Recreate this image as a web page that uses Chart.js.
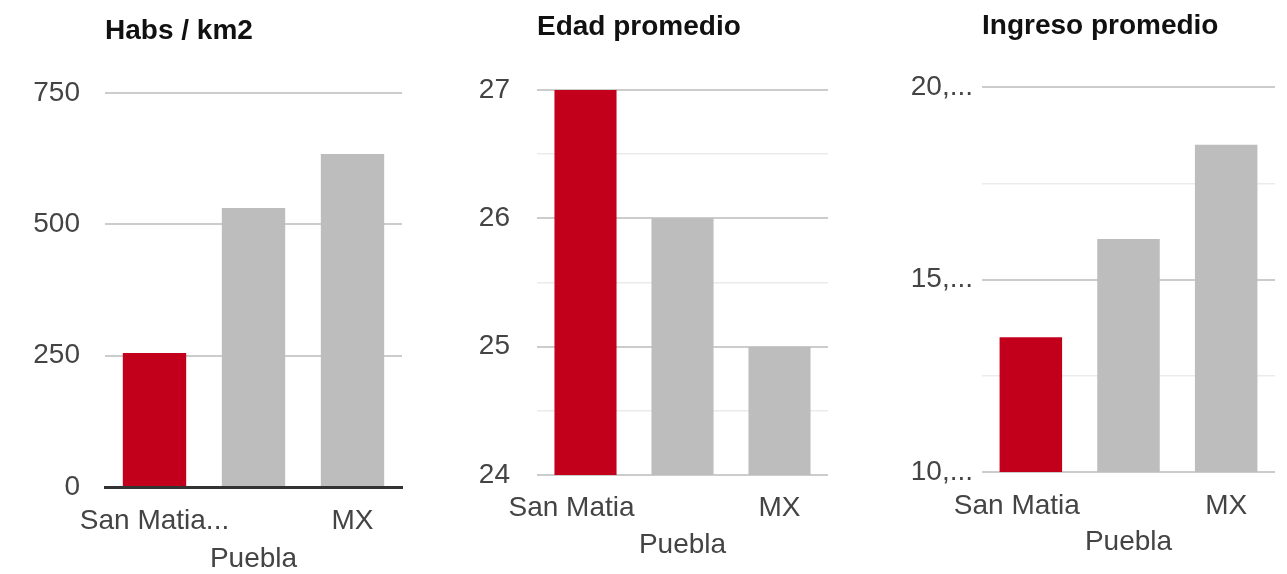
<!DOCTYPE html>
<html>
<head>
<meta charset="utf-8">
<title>Indicadores</title>
<script src="https://cdn.jsdelivr.net/npm/chart.js@4.4.1/dist/chart.umd.min.js"></script>
<style>
  body { margin: 0; background: #fff; }
  canvas.box { position: absolute; top: 0; }
</style>
</head>
<body>
<canvas id="densityChart" class="box" width="430" height="574" style="left:0px"></canvas>
<canvas id="ageChart" class="box" width="430" height="574" style="left:430px"></canvas>
<canvas id="incomeChart" class="box" width="427" height="574" style="left:860px"></canvas>
<script>
// Data
const densityLabels = ['San Matia...', 'Puebla', 'MX'];
const densityValues = [255, 531, 634];
const densityTicks = [0, 250, 500, 750];
const densityTickLabels = ['0', '250', '500', '750'];

const ageLabels = ['San Matia', 'Puebla', 'MX'];
const ageValues = [27, 26, 25];
const ageTicks = [24, 25, 26, 27];
const ageTickLabels = ['24', '25', '26', '27'];

const incomeLabels = ['San Matia', 'Puebla', 'MX'];
const incomeValues = [13500, 16050, 18500];
const incomeTicks = [10000, 15000, 20000];
const incomeTickLabels = ['10,...', '15,...', '20,...'];

const barColors = ['#c3001c', '#bdbdbd', '#bdbdbd'];
const fontFamily = "'Liberation Sans', Arial, sans-serif";

// major ticks plus a minor line half way between each pair
function withMinor(major, minor) {
    const out = [];
    major.forEach((v, i) => {
        out.push(v);
        if (minor && i < major.length - 1) out.push((v + major[i + 1]) / 2);
    });
    return out;
}

function makeChart(id, c) {
    const allTicks = withMinor(c.ticks, c.minor);
    const ctx = document.getElementById(id).getContext('2d');
    return new Chart(ctx, {
        type: 'bar',
        data: {
            labels: c.labels,
            datasets: [{
                data: c.values,
                backgroundColor: barColors,
                borderWidth: 0,
                barPercentage: 0.64,
                categoryPercentage: 1
            }]
        },
        options: {
            responsive: false,
            animation: false,
            events: [],
            layout: { padding: { left: 0, right: c.padRight, top: 0, bottom: 0 } },
            plugins: {
                legend: { display: false },
                tooltip: { enabled: false },
                title: {
                    display: true,
                    text: c.title,
                    align: 'start',
                    fullSize: false,
                    color: '#111',
                    font: { family: fontFamily, size: 28, weight: 'bold', lineHeight: 1.2 },
                    padding: { top: c.titleTop, bottom: c.titleBottom }
                }
            },
            scales: {
                x: {
                    afterFit: s => { s.height = c.axisHeight; },
                    grid: { display: false, drawTicks: false },
                    border: c.darkZero
                        ? { display: true, color: '#333', width: 3, z: 1 }
                        : { display: false },
                    ticks: {
                        padding: c.labelPad,
                        color: '#444',
                        maxRotation: 0,
                        minRotation: 0,
                        autoSkip: false,
                        font: { family: fontFamily, size: 28, lineHeight: c.labelLine },
                        callback: (v, i) => {
                            if (i === 1) return ['', c.labels[i]];
                            if (i === 0 && c.padFirst) return c.labels[i] + '\u2002\u2002';
                            return c.labels[i];
                        }
                    }
                },
                y: {
                    min: c.ticks[0],
                    max: c.ticks[c.ticks.length - 1],
                    afterBuildTicks: s => { s.ticks = allTicks.map(v => ({ value: v })); },
                    afterFit: s => { s.width = c.axisWidth; },
                    border: { display: false },
                    grid: {
                        drawTicks: false,
                        color: g => c.ticks.includes(g.tick.value) ? '#cccccc' : '#ebebeb',
                        lineWidth: g => c.ticks.includes(g.tick.value) ? 2 : 1.5
                    },
                    ticks: {
                        padding: c.tickPad,
                        color: '#444',
                        font: { family: fontFamily, size: 28 },
                        callback: v => {
                            const i = c.ticks.indexOf(v);
                            return i < 0 ? '' : c.tickLabels[i];
                        }
                    }
                }
            }
        }
    });
}

makeChart('densityChart', {
    title: 'Habs / km2',
    labels: densityLabels, values: densityValues,
    ticks: densityTicks, tickLabels: densityTickLabels, minor: false,
    darkZero: true, padFirst: false,
    padRight: 28, axisWidth: 105, tickPad: 25,
    titleTop: 14.5, titleBottom: 44.9,
    axisHeight: 87, labelPad: 15, labelLine: 1.357
});

makeChart('ageChart', {
    title: 'Edad promedio',
    labels: ageLabels, values: ageValues,
    ticks: ageTicks, tickLabels: ageTickLabels, minor: true,
    darkZero: false, padFirst: true,
    padRight: 32, axisWidth: 107, tickPad: 27,
    titleTop: 10.5, titleBottom: 45.9,
    axisHeight: 99, labelPad: 14.5, labelLine: 1.32
});

makeChart('incomeChart', {
    title: 'Ingreso promedio',
    labels: incomeLabels, values: incomeValues,
    ticks: incomeTicks, tickLabels: incomeTickLabels, minor: true,
    darkZero: false, padFirst: true,
    padRight: 12, axisWidth: 122, tickPad: 9,
    titleTop: 9.5, titleBottom: 43.9,
    axisHeight: 102, labelPad: 15.75, labelLine: 1.30
});
</script>
</body>
</html>
